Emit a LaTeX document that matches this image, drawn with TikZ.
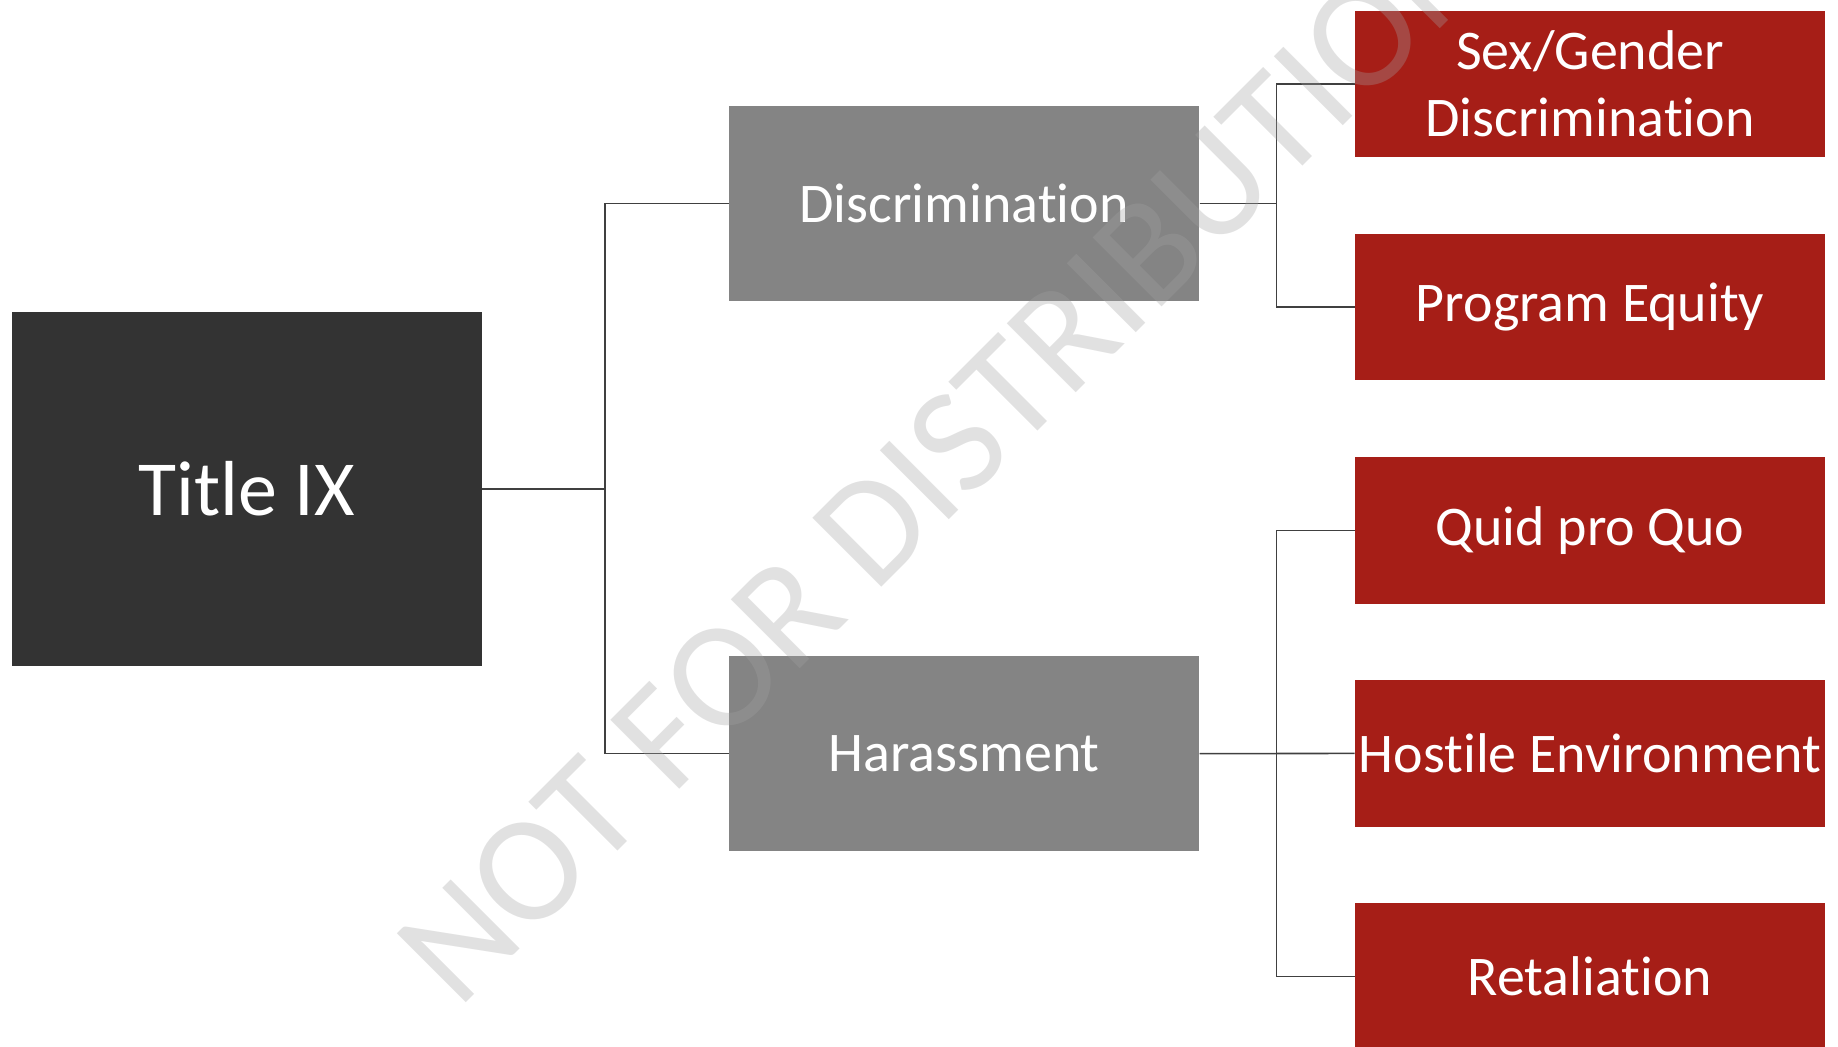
\documentclass[tikz,border=0pt]{standalone}
\usepackage{fontspec}
\setmainfont{Carlito}[RawFeature={-liga;-clig;-calt;-dlig}]
\usepackage{tikz}

\definecolor{rootdark}{RGB}{51,51,51}
\definecolor{branchgray}{RGB}{132,132,132}
\definecolor{leafred}{RGB}{166,30,23}
\definecolor{linkgray}{RGB}{64,64,64}
\definecolor{markgray}{RGB}{163,163,163}

\tikzset{
  rootbox/.style={fill=rootdark, text=white, inner sep=0pt, minimum width=235pt, minimum height=177pt, font=\fontsize{39}{47}\selectfont},
  branchbox/.style={fill=branchgray, text=white, inner sep=0pt, minimum width=235pt, minimum height=97.5pt, font=\fontsize{28}{33.6}\selectfont},
  leafbox/.style={fill=leafred, text=white, inner sep=0pt, minimum width=235pt, minimum height=73.25pt, align=center, font=\fontsize{28}{33.6}\selectfont},
  link/.style={draw=linkgray, line width=0.8pt},
  watermark/.style={text=markgray, text opacity=0.32, inner sep=0pt, rotate=45, font=\fontsize{76}{76}\selectfont},
}

\begin{document}
\begin{tikzpicture}[x=0.5pt,y=0.5pt,yscale=-1,xscale=1]
    \useasboundingbox (0,0) rectangle (1838,1047);
    \clip (0,0) rectangle (1838,1047);

    %Shape: Rectangle [root]
    \node [rootbox] (title) at (246.8,488.8) {Title IX};
    %Shape: Rectangle [branches]
    \node [branchbox] (discr) at (964.1,203.4) {Discrimination};
    \node [branchbox] (harass) at (964.1,753.7) {Harassment};
    %Shape: Rectangle [leaves]
    \node [leafbox] (sexgender) at (1590.1,83.8) {Sex/Gender\\Discrimination};
    \node [leafbox] (equity) at (1590.1,306.8) {Program Equity};
    \node [leafbox] (quid) at (1590.1,530.4) {Quid pro Quo};
    \node [leafbox] (hostile) at (1590.1,753.4) {Hostile Environment};
    \node [leafbox] (retal) at (1590.1,976.6) {Retaliation};

    %Coordinates: buses
    \coordinate (busL) at (604.9,0);
    \coordinate (busR) at (1276.5,0);

    %Elbow Lines
    \draw [link] (title.east) -- (title.east -| busL) |- (discr.west);
    \draw [link] (title.east) -- (title.east -| busL) |- (harass.west);
    \draw [link] (discr.east) -- (discr.east -| busR) |- (sexgender.west);
    \draw [link] (discr.east) -- (discr.east -| busR) |- (equity.west);
    \draw [link] (harass.east) -- (harass.east -| busR) |- (quid.west);
    \draw [link] (harass.east) -- (hostile.west);
    \draw [link] (harass.east) -- (harass.east -| busR) |- (retal.west);

    % Text Node
    \node [watermark, anchor=base west] (mark) at (458,1011) {NOT FOR DISTRIBUTION};

\end{tikzpicture}
\end{document}
